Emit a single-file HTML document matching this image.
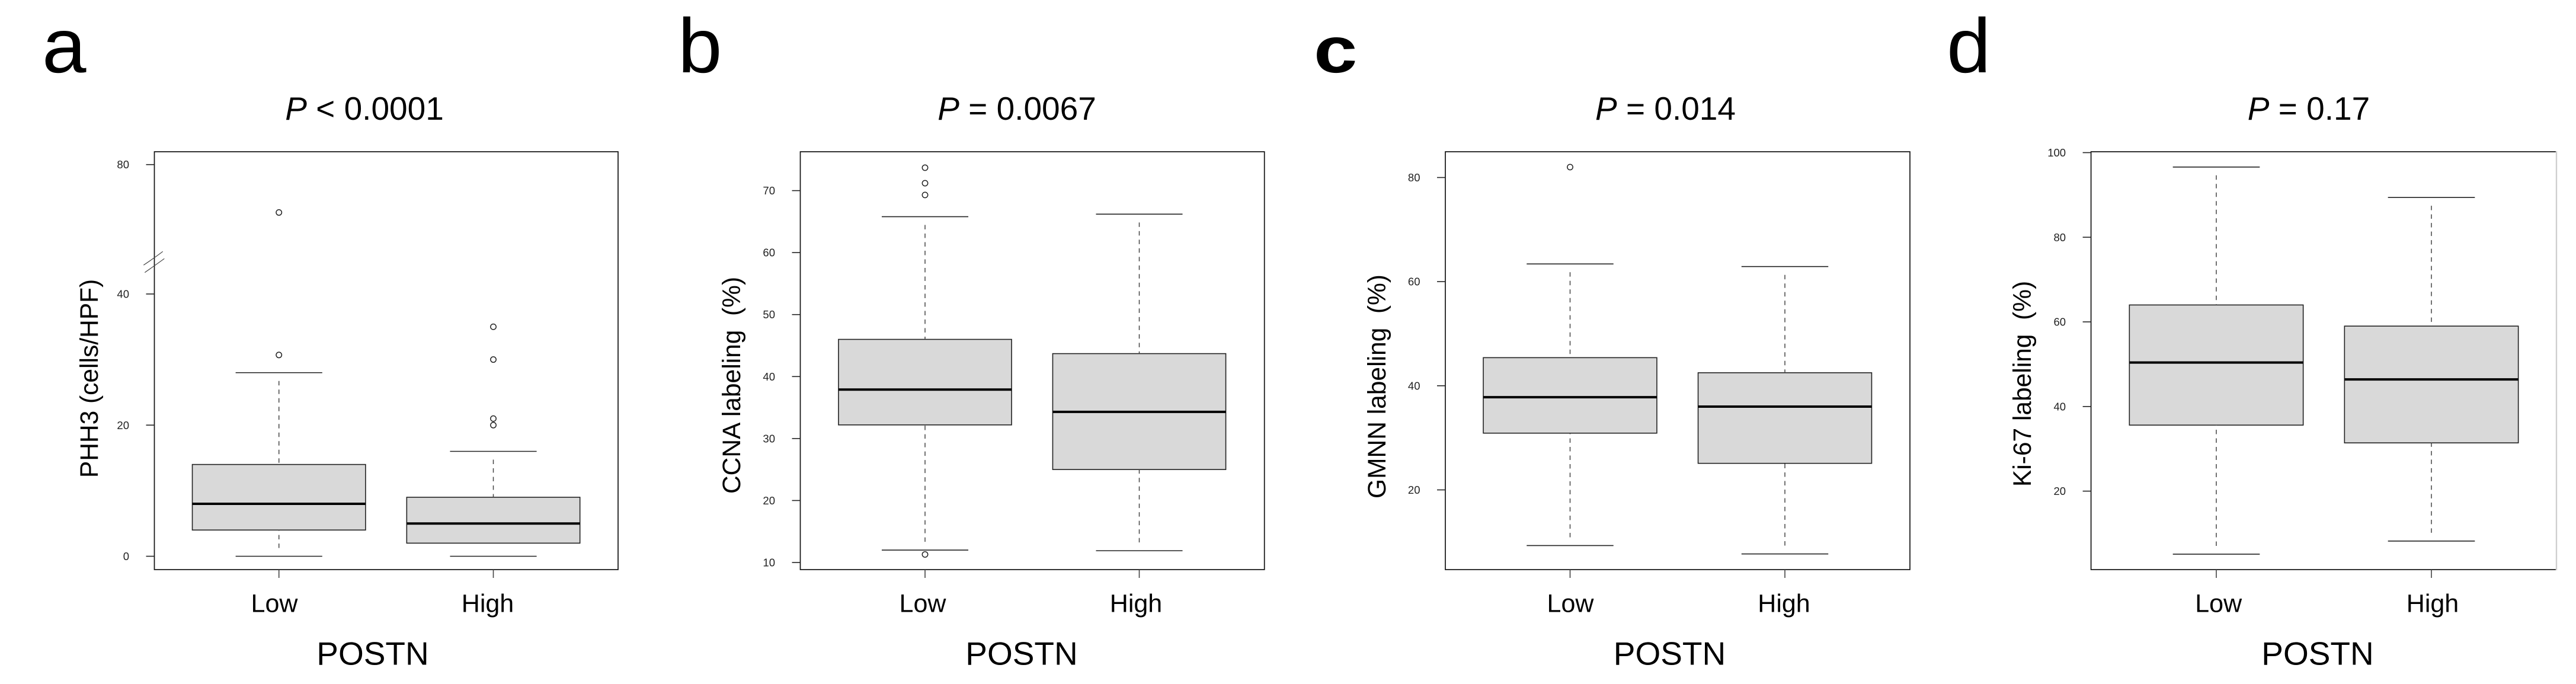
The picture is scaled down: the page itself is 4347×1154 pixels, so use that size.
<!DOCTYPE html>
<html lang="en">
<head>
<meta charset="utf-8">
<title>POSTN boxplots</title>
<style>
html,body{margin:0;padding:0;background:#fff;width:4347px;height:1154px;overflow:hidden}
svg{display:block}
text{font-family:"Liberation Sans",Arial,sans-serif;fill:#000;white-space:pre}
</style>
</head>
<body>
<svg id="figure" xmlns="http://www.w3.org/2000/svg" width="4347" height="1154" viewBox="0 0 4347 1154"></svg>
<script>
const categories = ['Low', 'High'];

const ticksA = [0, 20, 40, 80];
const lowA = [0, 4, 8, 14, 28];
const highA = [0, 2, 5, 9, 16];
const lowOutliersA = [30.7, 65.2];
const highOutliersA = [20, 21, 30, 35];

const ticksB = [10, 20, 30, 40, 50, 60, 70];
const lowB = [12, 32.2, 37.9, 46, 65.8];
const highB = [11.9, 25, 34.3, 43.7, 66.2];
const lowOutliersB = [11.3, 69.3, 71.2, 73.7];
const highOutliersB = [];

const ticksC = [20, 40, 60, 80];
const lowC = [9.3, 30.9, 37.8, 45.4, 63.4];
const highC = [7.7, 25.1, 36, 42.5, 62.9];
const lowOutliersC = [82];
const highOutliersC = [];

const ticksD = [20, 40, 60, 80, 100];
const lowD = [5.1, 35.6, 50.4, 64, 96.6];
const highD = [8.2, 31.4, 46.4, 59, 89.4];
const lowOutliersD = [];
const highOutliersD = [];

const svgNS = 'http://www.w3.org/2000/svg';
const figure = document.getElementById('figure');

function make(parent, tag, attrs, content) {
  const el = document.createElementNS(svgNS, tag);
  for (const k in attrs) el.setAttribute(k, attrs[k]);
  if (content !== undefined) el.textContent = content;
  parent.appendChild(el);
  return el;
}

function scaleFrom(domain, range) {
  return function (v) {
    let i = 0;
    while (i < domain.length - 2 && v > domain[i + 1]) i++;
    return range[i] + (v - domain[i]) * (range[i + 1] - range[i]) / (domain[i + 1] - domain[i]);
  };
}

function drawBox(g, cx, halfBox, halfCap, y, stats, outliers) {
  const lo = y(stats[0]), q1 = y(stats[1]), med = y(stats[2]), q3 = y(stats[3]), hi = y(stats[4]);
  if (q1 - q3 >= 0) {
    const box = make(g, 'rect', {x: cx - halfBox, y: q3, width: halfBox * 2, height: q1 - q3, fill: '#d9d9d9', stroke: '#222', 'stroke-width': 1.6});
    
    
  }
  const median = make(g, 'line', {x1: cx - halfBox, x2: cx + halfBox, y1: med, y2: med, stroke: '#000', 'stroke-width': 4});
  
  

  const capTop = make(g, 'line', {x1: cx - halfCap, x2: cx + halfCap, y1: hi, y2: hi, stroke: '#222', 'stroke-width': 1.6});
  
  
  const capBottom = make(g, 'line', {x1: cx - halfCap, x2: cx + halfCap, y1: lo, y2: lo, stroke: '#222', 'stroke-width': 1.6});
  
  

  if (q3 - hi > 26) {
    const upper = make(g, 'line', {x1: cx, x2: cx, y1: hi + 14, y2: q3, stroke: '#444', 'stroke-width': 1.5, 'stroke-dasharray': '7.5 7'});
    
    
  }
  if (lo - q1 > 26) {
    const lower = make(g, 'line', {x1: cx, x2: cx, y1: lo - 14, y2: q1, stroke: '#444', 'stroke-width': 1.5, 'stroke-dasharray': '7.5 7'});
    
    
  }
  outliers.forEach(function (v) {
    const dot = make(g, 'circle', {cx: cx, cy: y(v), r: 4.7, fill: 'none', stroke: '#222', 'stroke-width': 1.5});
    
    
  });
}

function drawPanel(p) {
  const g = make(figure, 'g', {});
  
  
  const y = scaleFrom(p.domain, p.range);
  const x = scaleFrom([0, 1], [p.c1, p.c2]);
  const unit = p.c2 - p.c1;

  const letter = make(g, 'text', {x: 0, y: 0, 'font-size': p.letterSize, 'font-weight': p.letterWeight, transform: p.letterTransform}, p.id);
  
  

  const title = make(g, 'text', {x: p.titleX, y: 202, 'font-size': 55, 'text-anchor': 'middle'});
  
  
  make(title, 'tspan', {'font-style': 'italic'}, 'P');
  make(title, 'tspan', {}, p.title);

  const frame = make(g, 'rect', {x: p.left, y: 256, width: p.right - p.left, height: 705, fill: '#fff', stroke: '#111', 'stroke-width': 1.7});
  
  
  if (p.paleRight) {
    const pale = make(g, 'line', {x1: p.right, x2: p.right, y1: 255, y2: 962, stroke: '#cfcfcf', 'stroke-width': 2.4});
    
    
  }

  p.ticks.forEach(function (t) {
    const mark = make(g, 'line', {x1: p.left - 14, x2: p.left, y1: y(t), y2: y(t), stroke: '#222', 'stroke-width': 1.6});
    
    
    const label = make(g, 'text', {x: p.left - 42.5, y: y(t) + 6.5, 'font-size': 18.5, 'text-anchor': 'end', style: 'fill:#222'}, String(t));
    
    
  });

  categories.forEach(function (c, i) {
    const cx = x(i);
    const mark = make(g, 'line', {x1: cx, x2: cx, y1: 961, y2: 975, stroke: '#444', 'stroke-width': 1.6});
    
    
    const label = make(g, 'text', {x: p.catX[i], y: 1032.5, 'font-size': 43, 'text-anchor': 'middle'}, c);
    
    
    drawBox(g, cx, unit * 0.404, unit * 0.202, y, p.stats[i], p.outliers[i]);
  });

  const xTitle = make(g, 'text', {x: p.xTitleX, y: 1121.5, 'font-size': 55, 'text-anchor': 'middle'}, 'POSTN');
  
  

  const yTitle = make(g, 'text', {x: 0, y: 0, 'font-size': 42.5, 'text-anchor': 'middle', transform: 'translate(' + p.yTitleX + ' ' + p.yTitleY + ') rotate(-90)'}, p.yTitle);
  
  
  return g;
}

const panelA = drawPanel({
  id: 'a', letterSize: 130, letterWeight: 'normal', letterTransform: 'translate(71 122) scale(1.03 1)',
  title: ' < 0.0001', titleX: 615, left: 260.5, right: 1043, paleRight: false,
  domain: [0, 40, 80], range: [938.5, 496, 277.7], c1: 470.7, c2: 832.5,
  ticks: ticksA, stats: [lowA, highA], outliers: [lowOutliersA, highOutliersA],
  catX: [463, 823], xTitleX: 629, yTitle: 'PHH3 (cells/HPF)', yTitleX: 165, yTitleY: 638.5
});
drawPanel({
  id: 'b', letterSize: 130, letterWeight: 'normal', letterTransform: 'translate(1144 122) scale(1.03 1)',
  title: ' = 0.0067', titleX: 1716, left: 1350.5, right: 2133.7, paleRight: false,
  domain: [10, 70], range: [949, 321.6], c1: 1561, c2: 1922.5,
  ticks: ticksB, stats: [lowB, highB], outliers: [lowOutliersB, highOutliersB],
  catX: [1557, 1917], xTitleX: 1724, yTitle: 'CCNA labeling  (%)', yTitleX: 1249, yTitleY: 650
});
drawPanel({
  id: 'c', letterSize: 110, letterWeight: 'bold', letterTransform: 'translate(2217 122) scale(1.2 1)',
  title: ' = 0.014', titleX: 2810.5, left: 2439, right: 3223, paleRight: false,
  domain: [20, 80], range: [826.5, 299.5], c1: 2649.5, c2: 3012,
  ticks: ticksC, stats: [lowC, highC], outliers: [lowOutliersC, highOutliersC],
  catX: [2650, 3010.5], xTitleX: 2817.5, yTitle: 'GMNN labeling  (%)', yTitleX: 2338, yTitleY: 652
});
drawPanel({
  id: 'd', letterSize: 130, letterWeight: 'normal', letterTransform: 'translate(3285 122) scale(1.03 1)',
  title: ' = 0.17', titleX: 3896, left: 3528.6, right: 4314, paleRight: true,
  domain: [20, 100], range: [828.6, 257.5], c1: 3740, c2: 4103,
  ticks: ticksD, stats: [lowD, highD], outliers: [lowOutliersD, highOutliersD],
  catX: [3743.7, 4105], xTitleX: 3911, yTitle: 'Ki-67 labeling  (%)', yTitleX: 3427, yTitleY: 647.5
});

const breakUpper = make(panelA, 'path', {d: 'M242.3 447.3 Q262 434 274.7 424.3', fill: 'none', stroke: '#444', 'stroke-width': 1.2});


const breakLower = make(panelA, 'path', {d: 'M244.3 459.7 Q264 446 277.3 436.3', fill: 'none', stroke: '#444', 'stroke-width': 1.2});


</script>
</body>
</html>
